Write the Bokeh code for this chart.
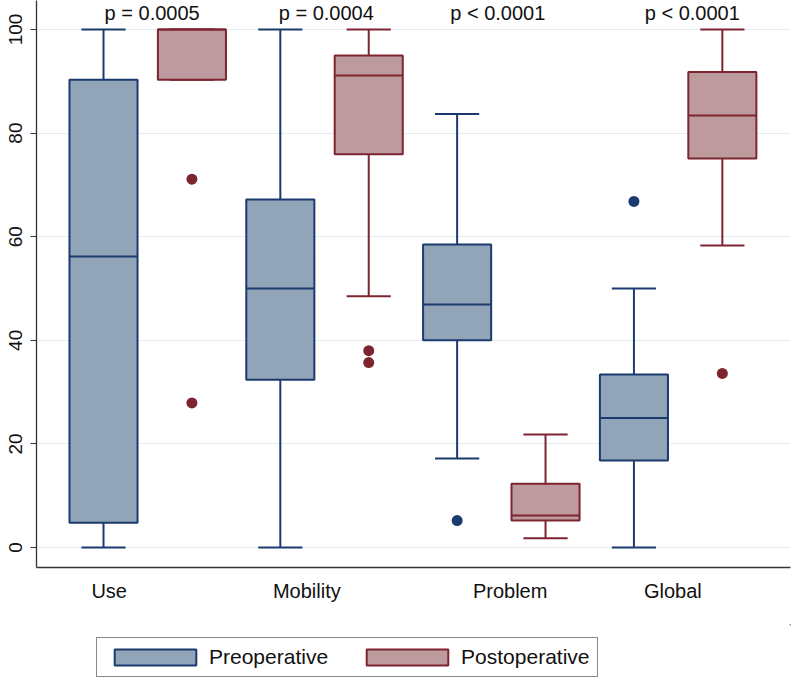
from bokeh.plotting import figure
from bokeh.layouts import column
from bokeh.models import FixedTicker, Legend, LegendItem, Range1d, ColumnDataSource
from bokeh.embed import file_html
from bokeh.resources import INLINE
from bokeh.core.properties import value

# ---------------- data ----------------
categories = ["Use", "Mobility", "Problem", "Global"]
groups = ["Preoperative", "Postoperative"]

pre_lower = [0.0, 0.0, 17.2, 0.0]
pre_q1 = [4.8, 32.4, 40.0, 16.8]
pre_median = [56.2, 50.0, 46.9, 25.0]
pre_q3 = [90.3, 67.2, 58.5, 33.4]
pre_upper = [100.0, 100.0, 83.7, 50.0]
pre_outliers = [[], [], [5.2], [66.8]]

post_lower = [90.3, 48.5, 1.8, 58.3]
post_q1 = [90.3, 75.9, 5.2, 75.1]
post_median = [100.0, 91.1, 6.2, 83.4]
post_q3 = [100.0, 95.0, 12.3, 91.8]
post_upper = [100.0, 100.0, 21.8, 100.0]
post_outliers = [[71.1, 27.9], [38.0, 35.7], [], [33.6]]

p_values = ["p = 0.0005", "p = 0.0004", "p < 0.0001", "p < 0.0001"]
y_ticks = [0, 20, 40, 60, 80, 100]

# ---------------- layout / style ----------------
FONT = "Liberation Sans"
PRE_FILL, PRE_LINE = "#91a4b8", "#1b3b6f"
POST_FILL, POST_LINE = "#bd9a9d", "#7d2430"
BOX_W = 0.77
CAP_W = 0.50
label_pos = [0.064, 2.30, 4.60, 6.44]      # Stata-style category label placement
pval_pos = [0.55, 2.52, 4.46, 6.66]
PVAL_Y = 103.1
W = 794

p = figure(width=W, height=624, output_backend="svg", toolbar_location=None,
           x_range=Range1d(-0.758, 7.771), y_range=Range1d(-3.86, 105.6),
           min_border_left=36, min_border_right=4, min_border_top=0,
           min_border_bottom=57)
p.outline_line_color = None
p.background_fill_color = "white"
p.border_fill_color = "white"

p.xgrid.visible = False
p.ygrid.ticker = FixedTicker(ticks=y_ticks)
p.ygrid.grid_line_color = "#e4ecf3"
p.ygrid.grid_line_width = 1.2

# y axis
p.yaxis.ticker = FixedTicker(ticks=y_ticks)
p.yaxis.major_label_orientation = "vertical"
p.yaxis.major_tick_in = 0
p.yaxis.major_tick_out = 6
p.yaxis.minor_tick_line_color = None
p.yaxis.axis_line_color = "#333333"
p.yaxis.major_tick_line_color = "#333333"
p.yaxis.axis_line_width = 1.3
p.yaxis.major_label_text_font = FONT
p.yaxis.major_label_text_font_size = "19px"
p.yaxis.major_label_text_color = "#111111"
p.yaxis.major_label_standoff = 8

# x axis
p.xaxis.ticker = FixedTicker(ticks=label_pos)
p.xaxis.major_label_overrides = {t: c for t, c in zip(label_pos, categories)}
p.xaxis.major_tick_line_color = None
p.xaxis.minor_tick_line_color = None
p.xaxis.axis_line_color = "#333333"
p.xaxis.axis_line_width = 1.3
p.xaxis.major_label_text_font = FONT
p.xaxis.major_label_text_font_size = "20px"
p.xaxis.major_label_text_color = "#111111"
p.xaxis.major_label_standoff = 6


def draw(offset, lower, q1, med, q3, upper, outs, fill, line):
    xs = [2 * i + offset for i in range(len(categories))]
    src = ColumnDataSource(dict(x=xs, lower=lower, q1=q1, med=med, q3=q3, upper=upper,
                                cl=[x - CAP_W / 2 for x in xs], cr=[x + CAP_W / 2 for x in xs],
                                bl=[x - BOX_W / 2 for x in xs], br=[x + BOX_W / 2 for x in xs]))
    p.segment(x0="x", y0="q3", x1="x", y1="upper", source=src, line_color=line, line_width=2)
    p.segment(x0="x", y0="q1", x1="x", y1="lower", source=src, line_color=line, line_width=2)
    p.segment(x0="cl", y0="upper", x1="cr", y1="upper", source=src, line_color=line, line_width=2)
    p.segment(x0="cl", y0="lower", x1="cr", y1="lower", source=src, line_color=line, line_width=2)
    p.vbar(x="x", width=BOX_W, bottom="q1", top="q3", source=src,
           fill_color=fill, line_color=line, line_width=2)
    p.segment(x0="bl", y0="med", x1="br", y1="med", source=src, line_color=line, line_width=2)
    ox, oy = [], []
    for x, vals in zip(xs, outs):
        for v in vals:
            ox.append(x)
            oy.append(v)
    p.scatter(ox, oy, size=11, fill_color=line, line_color=line, line_width=0)


draw(0, pre_lower, pre_q1, pre_median, pre_q3, pre_upper, pre_outliers, PRE_FILL, PRE_LINE)
draw(1, post_lower, post_q1, post_median, post_q3, post_upper, post_outliers, POST_FILL, POST_LINE)

p.text(x=pval_pos, y=[PVAL_Y] * len(pval_pos), text=p_values, text_align="center",
       text_baseline="middle", text_font=value(FONT), text_font_size="20px", text_color="#111111")

# ---------------- legend strip ----------------
lg = figure(width=W, height=53, output_backend="svg", toolbar_location=None,
            x_range=Range1d(0, 1), y_range=Range1d(0, 1),
            x_axis_location=None, y_axis_location=None,
            min_border_left=0, min_border_right=0, min_border_top=0, min_border_bottom=0)
lg.grid.visible = False
lg.outline_line_color = None
# legend swatch renderers: placed outside the visible range so only the legend shows them
r_pre = lg.vbar(x=[5], width=0.1, bottom=[4], top=[5], fill_color=PRE_FILL, line_color=PRE_LINE, line_width=2)
r_post = lg.vbar(x=[5], width=0.1, bottom=[4], top=[5], fill_color=POST_FILL, line_color=POST_LINE, line_width=2)
legend = Legend(items=[LegendItem(label=groups[0], renderers=[r_pre]),
                       LegendItem(label=groups[1], renderers=[r_post])],
                orientation="horizontal", location=(60, 0),
                glyph_width=102, glyph_height=20, label_height=16,
                label_text_font=FONT, label_text_font_size="21px", label_text_color="#111111",
                label_standoff=3, spacing=28, padding=7, margin=0,
                border_line_color="#111111", border_line_width=1.5,
                background_fill_color="white")
lg.add_layout(legend)

layout = column(p, lg, spacing=0)
open("out.html", "w").write(file_html(layout, INLINE))
